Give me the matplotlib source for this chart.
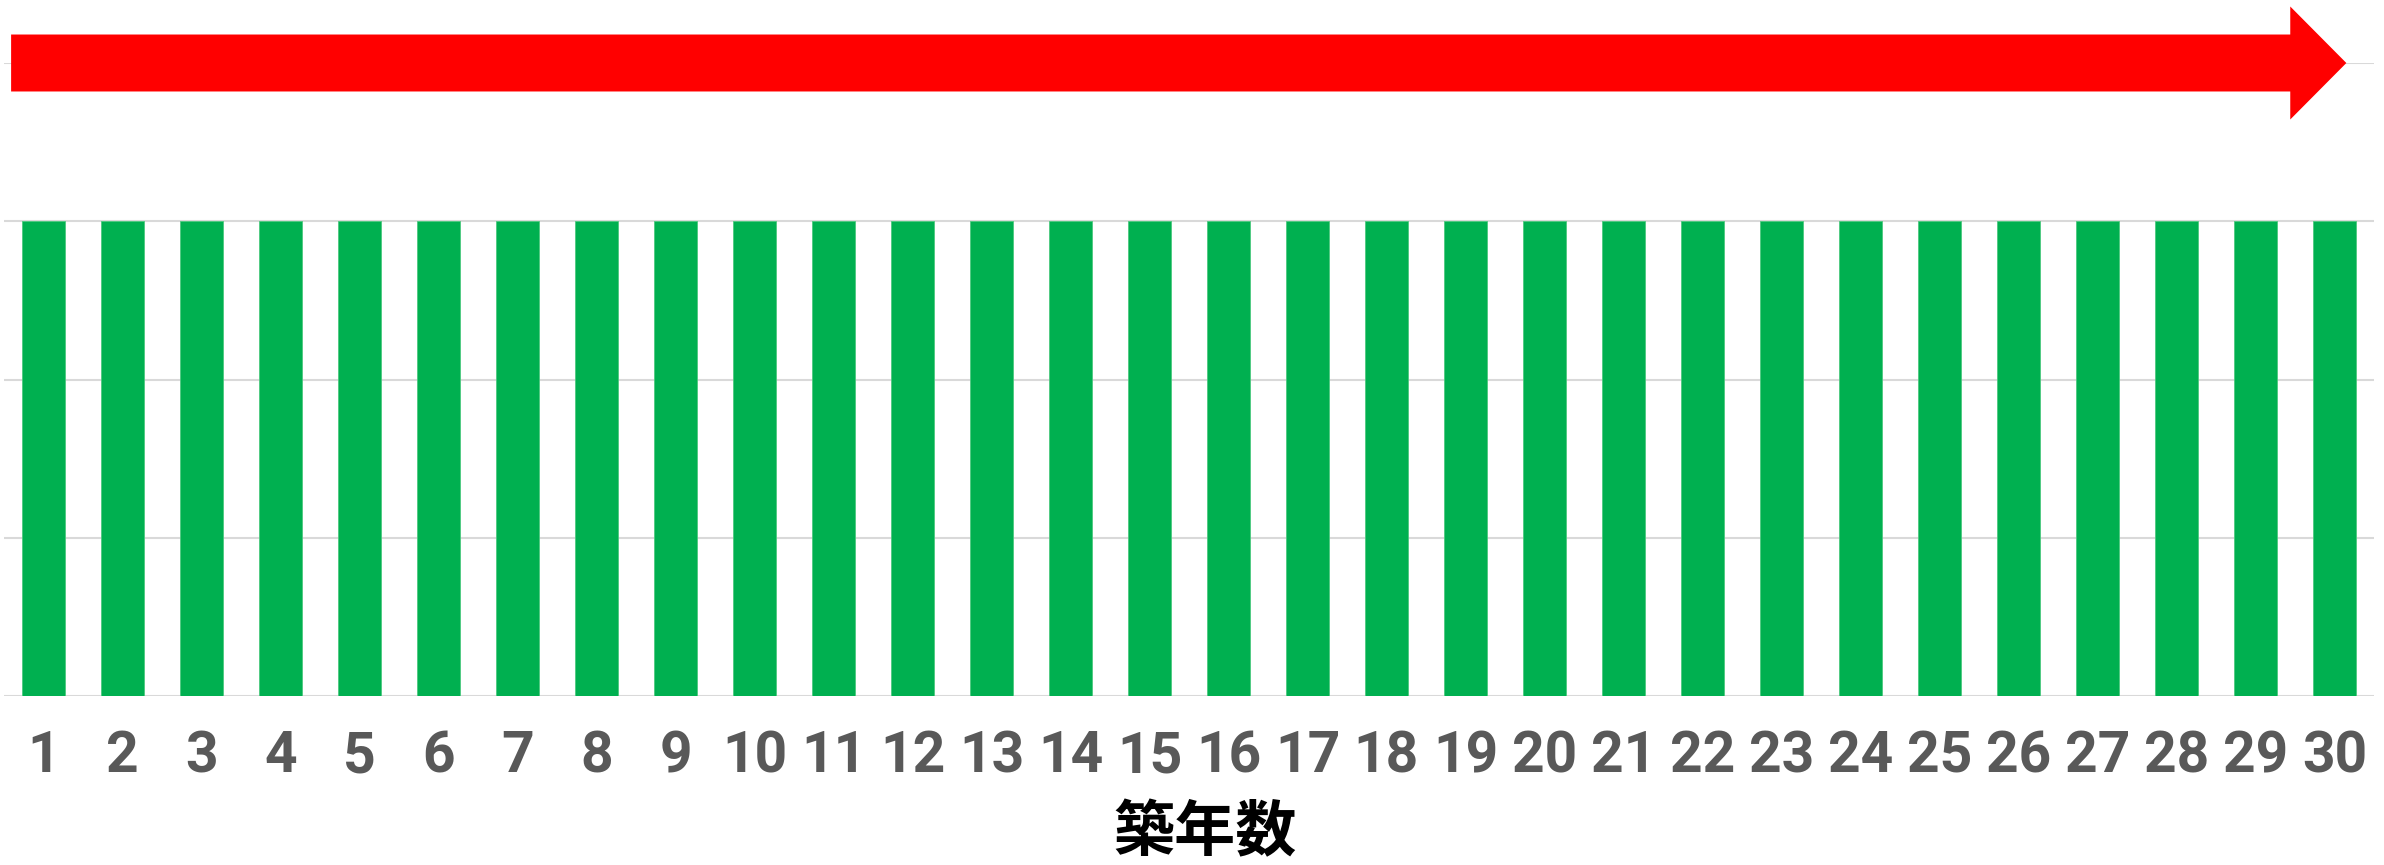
import matplotlib
matplotlib.use('Agg')
import numpy as np
from matplotlib import pyplot as plt
from matplotlib.patches import FancyArrow

# data
years = list(range(1, 31))
values = [3] * 30
x_label = '築年数'

fig = plt.figure(figsize=(23.84, 8.65), dpi=100)
ax = fig.add_axes([4 / 2384, 1 - 696 / 865, 2370 / 2384, (696 - 63) / 865])

x = np.arange(len(years))
ax.bar(x, values, width=0.556, color='#00B050', edgecolor='#4CC97F', linewidth=0.6, zorder=3)

ax.set_xlim(-0.5, len(years) - 0.5)
ax.set_ylim(0, 4)
ax.set_yticks([0, 1, 2, 3, 4])
ax.yaxis.grid(True, color='#D9D9D9', linewidth=1.5, zorder=0)
ax.tick_params(axis='y', left=False, labelleft=False)
for s in ax.spines.values():
    s.set_visible(False)

ax.set_xticks(x)
ax.set_xticklabels([str(y) for y in years], family=['Roboto', 'DejaVu Sans'],
                   fontweight='bold', fontsize=41, color='#595959')
ax.tick_params(axis='x', length=0, pad=24)

# red arrow along the top gridline
arr = FancyArrow(-0.41, 4, 29.56, 0, width=0.36, head_width=0.714, head_length=0.71,
                 length_includes_head=True, color='#FF0000', linewidth=0, clip_on=False, zorder=4)
ax.add_patch(arr)

fig.text(1205 / 2384, 1 - 834 / 865, x_label, ha='center', va='center', fontsize=44,
         fontweight='bold', family=['Noto Sans CJK JP', 'DejaVu Sans'], color='black')

fig.savefig('out.png', dpi=100)
